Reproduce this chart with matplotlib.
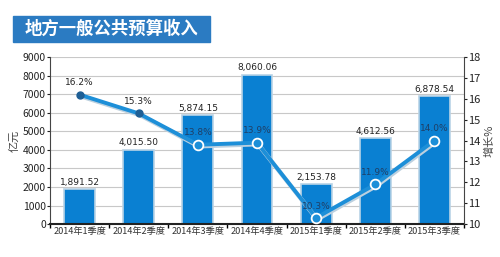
import matplotlib
matplotlib.use("Agg")
import matplotlib.pyplot as plt
import matplotlib.patches as mpatches
import numpy as np

plt.rcParams['font.family'] = ['Noto Sans CJK SC', 'DejaVu Sans']

quarters = ["2014年1季度", "2014年2季度", "2014年3季度", "2014年4季度",
            "2015年1季度", "2015年2季度", "2015年3季度"]
revenue = [1891.52, 4015.50, 5874.15, 8060.06, 2153.78, 4612.56, 6878.54]
revenue_labels = ["1,891.52", "4,015.50", "5,874.15", "8,060.06",
                  "2,153.78", "4,612.56", "6,878.54"]
growth = [16.2, 15.3, 13.8, 13.9, 10.3, 11.9, 14.0]
growth_labels = ["16.2%", "15.3%", "13.8%", "13.9%", "10.3%", "11.9%", "14.0%"]

bar_color = "#0a80d2"
line_color = "#1d8fd8"
dark = "#1f5f95"

fig = plt.figure(figsize=(5, 2.57), dpi=100)
ax = fig.add_axes([0.1, 0.128, 0.828, 0.65])
x = np.arange(len(quarters))

ax.bar(x, revenue, width=0.52, color=bar_color, edgecolor="#b9d3e6",
       linewidth=1.2, zorder=2)
for xi, v, lab in zip(x, revenue, revenue_labels):
    ax.text(xi, v + 120, lab, ha="center", va="bottom", fontsize=6.5,
            color="#222222", family=["DejaVu Sans"])

ax.set_ylim(0, 9000)
ax.set_xlim(-0.5, len(quarters) - 0.5)
ax.set_yticks(np.arange(0, 9001, 1000))
ax.yaxis.grid(True, color="#c8c8c8", linewidth=0.8, zorder=0)
ax.set_axisbelow(True)
ax.set_xticks(x)
ax.set_xticklabels(quarters, fontsize=6.6, color="#333333")
ax.tick_params(axis="x", length=0, pad=2)
ax.set_xticks(np.arange(-0.5, len(quarters), 1), minor=True)
ax.tick_params(axis="x", which="minor", length=3, width=1, direction="out")
ax.tick_params(axis="y", labelsize=7.5, length=2, pad=1, colors="#222222")
for s in ["top", "right"]:
    ax.spines[s].set_visible(False)
ax.spines["left"].set_color("#444444")
ax.spines["bottom"].set_color("#222222")
ax.spines["bottom"].set_linewidth(1.5)
ax.set_ylabel("亿元", fontsize=8, color="#444444", labelpad=2)

ax2 = ax.twinx()
ax2.set_ylim(10, 18)
ax2.set_yticks(np.arange(10, 19, 1))
ax2.tick_params(axis="y", labelsize=8, length=2, pad=1, colors="#222222")
for s in ["top", "left", "bottom"]:
    ax2.spines[s].set_visible(False)
ax2.spines["right"].set_color("#444444")
ax2.set_ylabel("增长%", fontsize=8, color="#444444", labelpad=3)

ax2.plot(x, growth, color="#bcd0df", linewidth=3.2, zorder=3,
         transform=ax2.transData + matplotlib.transforms.ScaledTranslation(1/100, -1.5/100, fig.dpi_scale_trans))
ax2.plot(x, growth, color=line_color, linewidth=2.8, zorder=4)
ax2.plot(x[:2], growth[:2], "o", color=dark, markersize=5, zorder=5)
ax2.plot(x[2:], growth[2:], "o", color=line_color, markersize=7,
         markeredgecolor="white", markeredgewidth=1.3, zorder=5)
for xi, g, lab in zip(x, growth, growth_labels):
    ax2.text(xi, g + 0.35, lab, ha="center", va="bottom", fontsize=6.5,
             color="#1f3f66" if xi >= 2 else "#222222", family=["DejaVu Sans"], zorder=6)

fig.patches.append(mpatches.Rectangle((0.026, 0.838), 0.394, 0.1,
                                      transform=fig.transFigure, color="#2b7bc2",
                                      zorder=1))
fig.text(0.05, 0.888, "地方一般公共预算收入", color="white", fontsize=12.5,
         fontweight="bold", va="center", ha="left")

fig.savefig("out.png", dpi=100)
